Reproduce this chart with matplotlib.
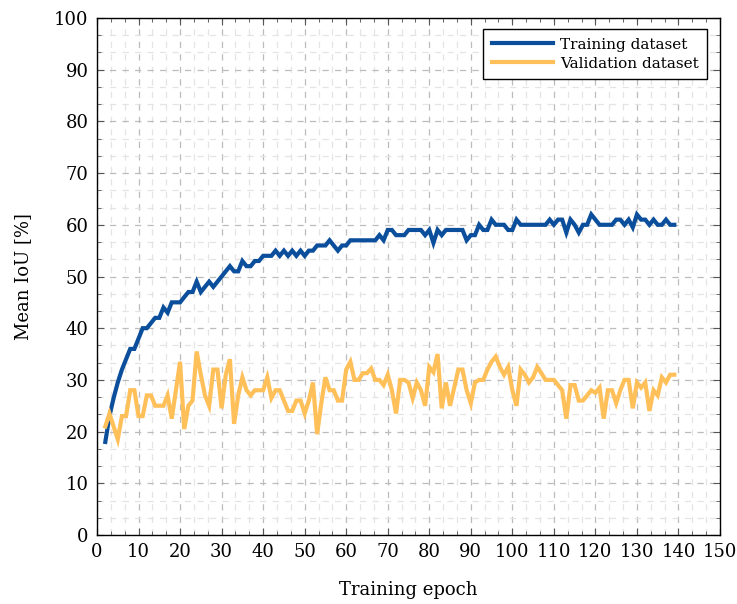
import matplotlib
matplotlib.use("Agg")
import matplotlib.pyplot as plt
from matplotlib.ticker import MultipleLocator
import numpy as np

epochs = list(range(2, 140))

train_iou = [18, 23, 26.5, 29.5, 32, 34, 36, 36, 38, 40, 40, 41, 42, 42, 44, 43, 45, 45, 45, 46, 47, 47,  # 2-23
             49, 47, 48, 49, 48, 49, 50, 51, 52, 51, 51, 53, 52, 52, 53, 53, 54, 54, 54, 55, 54, 55, 54,  # 24-46
             55, 54, 55, 54, 55, 55, 56, 56, 56, 57, 56, 55, 56, 56, 57, 57, 57, 57, 57, 57, 57, 58, 57,  # 47-69
             59, 59, 58, 58, 58, 59, 59, 59, 59, 58, 59, 56.5, 59, 58, 59, 59, 59, 59, 59, 57, 58, 58, 60,  # 70-92
             59, 59, 61, 60, 60, 60, 59, 59, 61, 60, 60, 60, 60, 60, 60, 60, 61, 60, 61, 61, 58.5, 61, 60,
             58.5, 60, 60, 62, 61, 60, 60, 60, 60, 61, 61, 60, 61, 59.5, 62, 61, 61, 60, 61, 60, 60, 61, 60, 60]

val_iou = [21, 23.5, 21, 18.5, 23, 23, 28, 28, 23, 23, 27, 27, 25, 25, 25, 27, 22.5, 28, 33.5, 20.5, 25, 26,  # 2-23
           35.5, 31, 27, 25, 32, 32, 24.5, 31, 34, 21.5, 27, 30.5, 28, 27, 28, 28, 28, 30.5, 26.5, 28, 28,  # 24-44
           26, 24, 24, 26, 26, 23.5, 26, 29.5, 19.5, 25.5, 30.5, 28, 28, 26, 26, 32, 33.5, 30, 30, 31.3,  # 45-64
           31.3, 32.2, 30, 30, 29, 31, 28, 23.5, 30, 30, 29.5, 26.5, 29.5, 28, 25, 32.5, 31.5, 35, 24.5,  # 65-83
           29.5, 25, 28.5, 32, 32, 28, 25.5, 29.5, 30, 30, 32, 33.5, 34.5, 32.5, 31, 32.5, 28, 25, 32,  # 84-102
           31, 29.5, 30.5, 32.5, 31.3, 30, 30, 30, 29, 28, 22.5, 29, 29, 26, 26, 27, 28, 27.5, 28.5,  # 103-121
           22.5, 28, 28, 25.5, 28, 30, 30, 24.5, 29.5, 28.5, 29.5, 24, 28, 27, 30.5, 29.5, 31, 31]  # 122-139

n = len(epochs)
train_iou = train_iou[:n]
val_iou = val_iou[:n]

series_labels = ["Training dataset", "Validation dataset"]
x_ticks = list(range(0, 151, 10))
y_ticks = list(range(0, 101, 10))

plt.rcParams['font.family'] = ['DejaVu Serif']

fig = plt.figure(figsize=(7.37, 6.04), dpi=100)
ax = fig.add_axes([97/737, 69/604, 623/737, 517/604])

ax.plot(epochs, train_iou, color='#0b4f9c', lw=3.0, label=series_labels[0],
        solid_joinstyle='miter', zorder=3)
ax.plot(epochs, val_iou, color='#ffc05a', lw=3.0, label=series_labels[1],
        solid_joinstyle='miter', zorder=3)

ax.set_xlim(0, 150)
ax.set_ylim(0, 100)
ax.set_xticks(x_ticks)
ax.set_yticks(y_ticks)
ax.xaxis.set_minor_locator(MultipleLocator(10/3))
ax.yaxis.set_minor_locator(MultipleLocator(10/3))

ax.grid(which='major', color='#bcbcbc', lw=0.9, linestyle=(0, (5, 5)), zorder=0)
ax.grid(which='minor', color='#e4e4e4', lw=0.9, linestyle=(0, (5, 5)), zorder=0)
ax.set_axisbelow(True)

ax.tick_params(which='both', direction='in', top=True, right=True, color='#555555')
ax.tick_params(which='major', length=5, width=0.8, labelsize=13, pad=6)
ax.tick_params(which='minor', length=3, width=0.6)

for s in ax.spines.values():
    s.set_color('black')
    s.set_linewidth(1.0)

ax.set_xlabel('Training epoch', fontsize=13, labelpad=14)
ax.set_ylabel('Mean IoU [%]', fontsize=13, labelpad=16)

leg = ax.legend(loc='upper right', fontsize=11, frameon=True, fancybox=False,
                edgecolor='black', framealpha=1, handlelength=4.0,
                borderpad=0.55, labelspacing=0.32, handletextpad=0.45,
                borderaxespad=0.0, bbox_to_anchor=(0.979, 0.978))
leg.get_frame().set_linewidth(1.0)

fig.savefig('out.png', dpi=100)
